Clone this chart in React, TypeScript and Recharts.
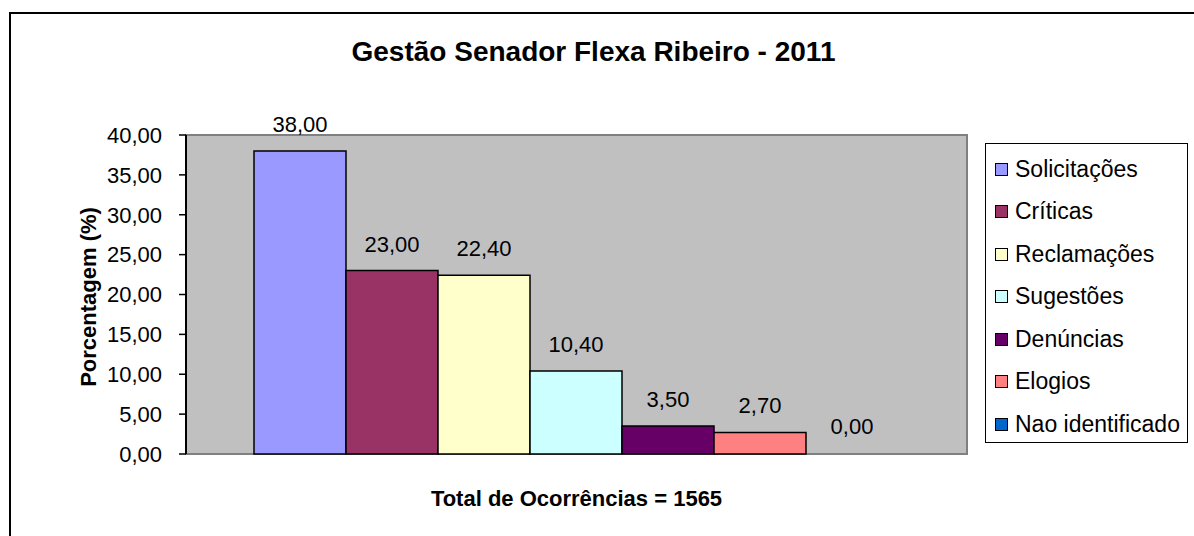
import { BarChart, Bar, XAxis, YAxis, ReferenceArea, LabelList, Label } from 'recharts'

const categories = ['Total']
const seriesNames = [
  'Solicitações',
  'Críticas',
  'Reclamações',
  'Sugestões',
  'Denúncias',
  'Elogios',
  'Nao identificado',
]
const seriesValues = [38.0, 23.0, 22.4, 10.4, 3.5, 2.7, 0.0]
const seriesColors = ['#9999FF', '#993366', '#FFFFCC', '#CCFFFF', '#660066', '#FF8080', '#0066CC']
const yTicks = [0, 5, 10, 15, 20, 25, 30, 35, 40]

const title = 'Gestão Senador Flexa Ribeiro - 2011'
const yLabel = 'Porcentagem (%)'
const xLabel = 'Total de Ocorrências = 1565'

const font = '"Liberation Sans", Arial, sans-serif'
const fmt = (v: number) => Number(v).toFixed(2).replace('.', ',')

const data = categories.map((name) => {
  const row: Record<string, string | number> = { name }
  seriesNames.forEach((s, i) => {
    row[s] = seriesValues[i]
  })
  return row
})

function ChartLegend() {
  return (
    <div
      style={{
        position: 'absolute',
        left: 985,
        top: 143,
        width: 201,
        height: 294,
        border: '1px solid #000',
        background: '#fff',
        paddingTop: 4,
        boxSizing: 'content-box',
      }}
    >
      {seriesNames.map((s, i) => (
        <div key={s} style={{ height: 42.5, display: 'flex', alignItems: 'center' }}>
          <span
            style={{
              width: 11,
              height: 11,
              marginLeft: 9,
              marginRight: 7,
              background: seriesColors[i],
              border: '1px solid #000',
              flex: 'none',
            }}
          />
          <span style={{ fontSize: 23, fontFamily: font, color: '#000', whiteSpace: 'nowrap' }}>{s}</span>
        </div>
      ))}
    </div>
  )
}

export default function App() {
  return (
    <div
      style={{
        position: 'fixed',
        left: 0,
        top: 0,
        width: 1194,
        height: 536,
        overflow: 'hidden',
        background: '#fff',
        fontFamily: font,
      }}
    >
      <div
        style={{
          position: 'absolute',
          left: 9,
          top: 12,
          width: 1300,
          height: 700,
          border: '2px solid #000',
        }}
      />
      <div
        style={{
          position: 'absolute',
          left: 0,
          top: 38,
          width: 1187,
          textAlign: 'center',
          fontSize: 28,
          lineHeight: '28px',
          fontWeight: 'bold',
          color: '#000',
        }}
      >
        {title}
      </div>
      <div style={{ position: 'absolute', left: 0, top: 0 }}>
        <BarChart
          width={1194}
          height={536}
          data={data}
          margin={{ top: 135, right: 227, bottom: 0, left: 0 }}
          barCategoryGap={68}
          barGap={0}
        >
          <ReferenceArea y1={0} y2={40} fill="#C0C0C0" fillOpacity={1} stroke="#808080" strokeWidth={2} />
          <XAxis dataKey="name" height={82} tick={false} tickLine={false} axisLine={false}>
            <Label
              content={({ viewBox }: any) => (
                <text
                  x={viewBox.x + viewBox.width / 2}
                  y={viewBox.y + 52}
                  textAnchor="middle"
                  fontSize={22}
                  fontWeight="bold"
                  fontFamily={font}
                  fill="#000"
                >
                  {xLabel}
                </text>
              )}
            />
          </XAxis>
          <YAxis
            width={186}
            domain={[0, 40]}
            ticks={yTicks}
            tickFormatter={fmt}
            interval={0}
            tickSize={7}
            tickMargin={17}
            tick={{ fontSize: 22, fill: '#000', fontFamily: font }}
            axisLine={{ stroke: '#000', strokeWidth: 2 }}
            tickLine={{ stroke: '#000', strokeWidth: 1.5 }}
          >
            <Label
              content={() => (
                <text
                  x={96}
                  y={297}
                  transform="rotate(-90 96 297)"
                  textAnchor="middle"
                  fontSize={22}
                  fontWeight="bold"
                  fontFamily={font}
                  fill="#000"
                >
                  {yLabel}
                </text>
              )}
            />
          </YAxis>
          {seriesNames.map((s, i) => (
            <Bar
              key={s}
              dataKey={s}
              fill={seriesColors[i]}
              fillOpacity={seriesValues[i] === 0 ? 0 : 1}
              stroke={seriesValues[i] === 0 ? 'none' : '#000'}
              strokeWidth={1.5}
              minPointSize={1}
              isAnimationActive={false}
            >
              <LabelList
                dataKey={s}
                position="top"
                offset={19}
                formatter={fmt as any}
                style={{ fontSize: 22, fill: '#000', fontFamily: font }}
              />
            </Bar>
          ))}
        </BarChart>
      </div>
      <ChartLegend />
    </div>
  )
}
